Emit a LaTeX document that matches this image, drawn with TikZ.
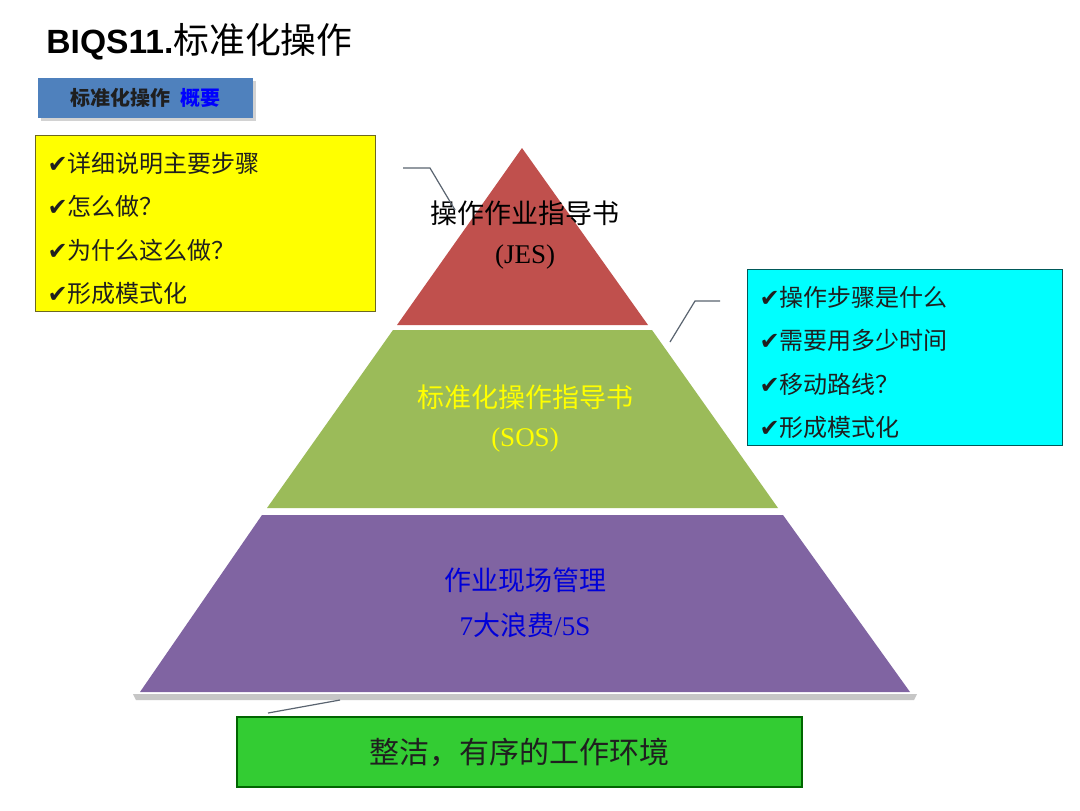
\documentclass[tikz,border=0pt]{standalone}
\usepackage{fontspec}
\setmainfont{Liberation Serif}
\newfontfamily\cjk{Noto Sans CJK SC}
\newfontfamily\headfont{Liberation Sans}
\newfontfamily\symfont{DejaVu Sans}
\usetikzlibrary{shadows, positioning}
\definecolor{pRed}{HTML}{C0504D}
\definecolor{pGreen}{HTML}{9BBB59}
\definecolor{pPurple}{HTML}{8064A2}
\definecolor{pBlue}{HTML}{4F81BD}
\definecolor{pCyan}{HTML}{00FFFF}
\definecolor{pLime}{HTML}{33CC33}
\definecolor{pYellow}{HTML}{FFFF00}
\definecolor{pInk}{HTML}{1F1F1F}
\definecolor{pLine}{HTML}{5A6470}
\newcommand{\chk}{{\symfont\fontsize{12}{12}\selectfont ✔}}

\begin{document}
\begin{tikzpicture}[x=0.5pt, y=-0.5pt,
  note/.style={draw=#1, line width=0.6pt, anchor=north west, align=left,
               minimum height=88pt, inner xsep=6pt, inner ysep=0pt,
               font=\cjk\fontsize{12}{21.7}\selectfont\color{pInk}},
  lbl/.style={font=\cjk\fontsize{13.5}{16}\selectfont, text=#1, inner sep=1pt},
  callout/.style={draw=pLine, line width=0.6pt}]
  \useasboundingbox[fill=white] (0,0) rectangle (1080,810);
  % heading
  \node[anchor=west, inner sep=0pt] (title) at (46,42)
    {\headfont\bfseries\fontsize{16.8}{18}\selectfont BIQS11.\cjk\mdseries\fontsize{17.9}{18}\selectfont 标准化操作};
  \node[fill=pBlue, minimum width=107.5pt, minimum height=20pt, inner sep=0pt,
        drop shadow={opacity=0.35, shadow xshift=1.5pt, shadow yshift=-1.5pt},
        font=\cjk\bfseries\fontsize{10}{12}\selectfont] (overview) at (145.5,98)
    {\textcolor{pInk}{标准化操作}\hspace{5pt}\textcolor{blue}{概要}};
  % pyramid
  \fill[gray!45] (133,694) -- (917,694) -- (914,700) -- (136,700) -- cycle;
  \fill[pRed] (522,148) -- (648,325) -- (397,325) -- cycle;
  \fill[pGreen] (393,330) -- (652,330) -- (778,508) -- (267,508) -- cycle;
  \fill[pPurple] (262,515) -- (783,515) -- (910,692) -- (140,692) -- cycle;
  \node[lbl=black] (jes) at (525,213) {操作作业指导书};
  \node[lbl=black, font=\fontsize{13.5}{16}\selectfont] (jescode) at (525,257) {(JES)};
  \node[lbl=pYellow] (sos) at (525,397) {标准化操作指导书};
  \node[lbl=pYellow, font=\fontsize{13.5}{16}\selectfont] (soscode) at (525,440) {(SOS)};
  \node[lbl=blue!85!black] (site) at (525,580) {作业现场管理};
  \node[lbl=blue!85!black] (waste) at (525,625) {{\rmfamily 7}大浪费{\rmfamily /5S}};
  % notes
  \node[note=olive!70!black, fill=pYellow, text width=158pt] (jesnote) at (35,135)
    {\rule{0pt}{15pt}\chk 详细说明主要步骤\\ \chk 怎么做？\\ \chk 为什么这么做？\\ \chk 形成模式化};
  \node[note=teal!70!black, fill=pCyan, text width=145.5pt] (sosnote) at (747,269)
    {\rule{0pt}{15pt}\chk 操作步骤是什么\\ \chk 需要用多少时间\\ \chk 移动路线？\\ \chk 形成模式化};
  \node[draw=green!40!black, line width=0.6pt, fill=pLime, minimum width=282.5pt, minimum height=35pt,
        font=\cjk\fontsize{15}{18}\selectfont\color{pInk}] (env) at (519.5,752) {整洁，有序的工作环境};
  % callouts
  \coordinate (ja) at (403,168);  \coordinate (jb) at (430,168);  \coordinate (jc) at (455,210);
  \coordinate (sa) at (720,301);  \coordinate (sb) at (695,301);  \coordinate (sc) at (670,342);
  \coordinate (ea) at (340,700);  \coordinate (eb) at (268,713);
  \draw[callout] (ja) -- (jb) -- (jc);
  \draw[callout] (sa) -- (sb) -- (sc);
  \draw[callout] (ea) -- (eb);
\end{tikzpicture}
\end{document}
